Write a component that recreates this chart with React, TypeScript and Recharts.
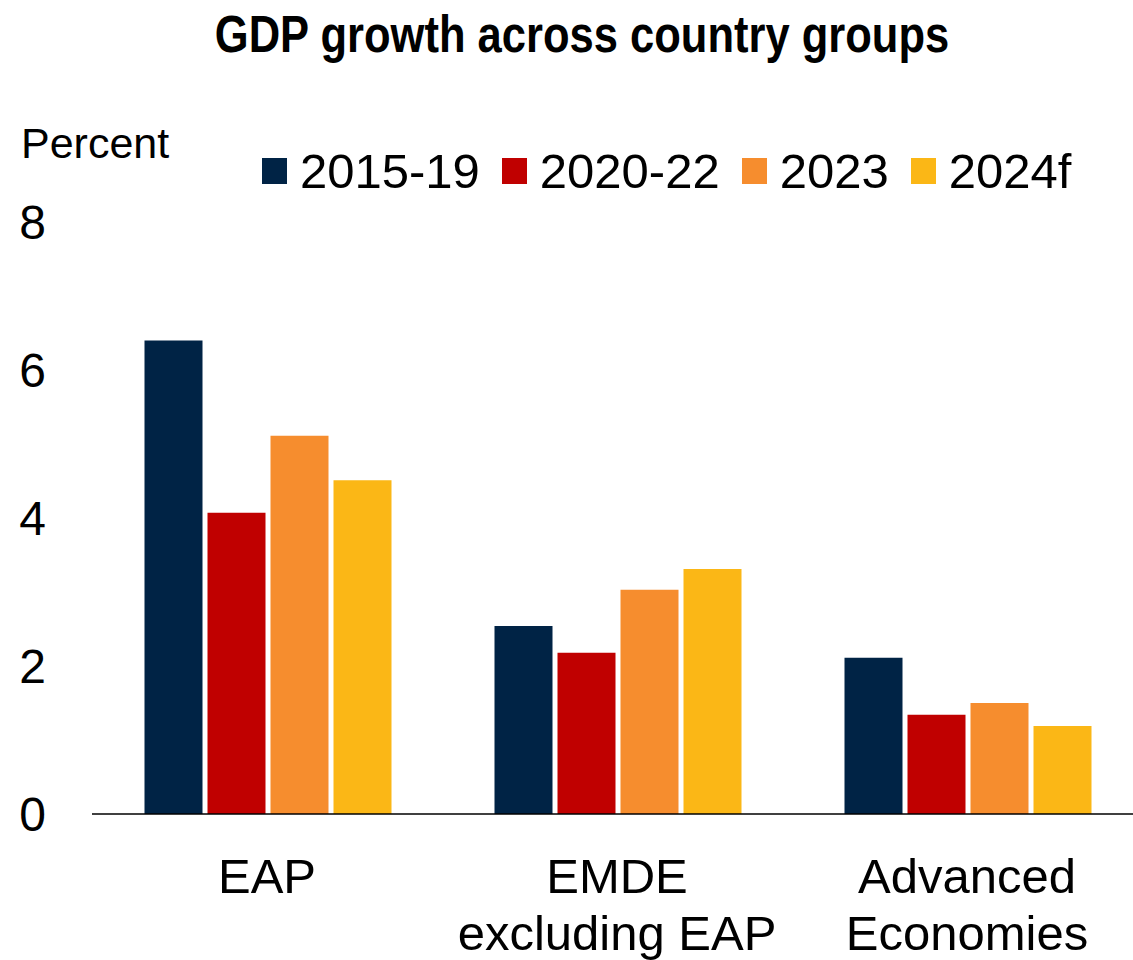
import React from "react";
import { BarChart, Bar, XAxis, YAxis } from "recharts";

const categories = ["EAP", "EMDE excluding EAP", "Advanced Economies"];
const categoryLines = [["EAP"], ["EMDE", "excluding EAP"], ["Advanced", "Economies"]];
const s2015_19 = [6.4, 2.54, 2.11];
const s2020_22 = [4.07, 2.18, 1.34];
const s2023 = [5.11, 3.03, 1.5];
const s2024f = [4.51, 3.31, 1.19];
const seriesNames = ["2015-19", "2020-22", "2023", "2024f"];
const seriesKeys = ["a", "b", "c", "d"];
const colors = ["#002345", "#C00000", "#F68D2E", "#FBB716"];
const yTicks = [0, 2, 4, 6, 8];

const data = categories.map((c, i) => ({
  name: c,
  idx: i,
  a: s2015_19[i],
  b: s2020_22[i],
  c: s2023[i],
  d: s2024f[i],
}));

const FONT = "'Liberation Sans', Arial, sans-serif";

const CatTick = (props: any) => {
  const { x, y, index } = props;
  const lines = categoryLines[index] || [props.payload.value];
  return (
    <g>
      {lines.map((l: string, k: number) => (
        <text
          key={k}
          x={x}
          y={y + 79 + k * 57}
          textAnchor="middle"
          fontSize={49}
          fontFamily={FONT}
          fill="#000"
        >
          {l}
        </text>
      ))}
    </g>
  );
};

export default function App() {
  return (
    <div
      style={{
        position: "absolute",
        left: 0,
        top: 0,
        width: 1133,
        height: 960,
        overflow: "hidden",
        background: "#fff",
        fontFamily: FONT,
      }}
    >
      <div
        style={{
          position: "absolute",
          left: 0,
          width: 1164,
          top: 4,
          whiteSpace: "nowrap",
          textAlign: "center",
          transform: "scaleX(0.837)",
          transformOrigin: "582px 0",
          fontSize: 52,
          fontWeight: "bold",
          lineHeight: "60px",
          color: "#000",
        }}
      >
        GDP growth across country groups
      </div>
      <div
        style={{
          position: "absolute",
          left: 21,
          top: 118,
          fontSize: 43,
          lineHeight: "50px",
          color: "#000",
        }}
      >
        Percent
      </div>
      <div
        style={{
          position: "absolute",
          left: 262,
          top: 143,
          display: "flex",
          alignItems: "center",
          fontSize: 49,
          lineHeight: "56px",
          color: "#000",
        }}
      >
        {seriesNames.map((n, i) => (
          <div key={n} style={{ display: "flex", alignItems: "center", marginRight: 22 }}>
            <div style={{ width: 25, height: 26, background: colors[i], marginRight: 13 }} />
            <span>{n}</span>
          </div>
        ))}
      </div>
      <div style={{ position: "absolute", left: 0, top: 0 }}>
        <BarChart
          width={1142}
          height={960}
          data={data}
          margin={{ top: 222, right: 0, left: 0, bottom: 0 }}
          barCategoryGap="15%"
          barGap={5}
        >
          <YAxis
            domain={[0, 8]}
            ticks={yTicks}
            width={92}
            axisLine={false}
            tickLine={false}
            tickSize={0}
            tickMargin={46}
            tick={{ fontSize: 48, fontFamily: FONT, fill: "#000" }}
          />
          <XAxis
            dataKey="name"
            height={146}
            axisLine={{ stroke: "#000", strokeWidth: 1.5 }}
            tickLine={false}
            tickSize={0}
            tickMargin={0}
            interval={0}
            tick={<CatTick />}
          />
          {seriesKeys.map((k, i) => (
            <Bar
              key={k}
              dataKey={k}
              name={seriesNames[i]}
              fill={colors[i]}
              isAnimationActive={false}
            />
          ))}
        </BarChart>
      </div>
    </div>
  );
}
